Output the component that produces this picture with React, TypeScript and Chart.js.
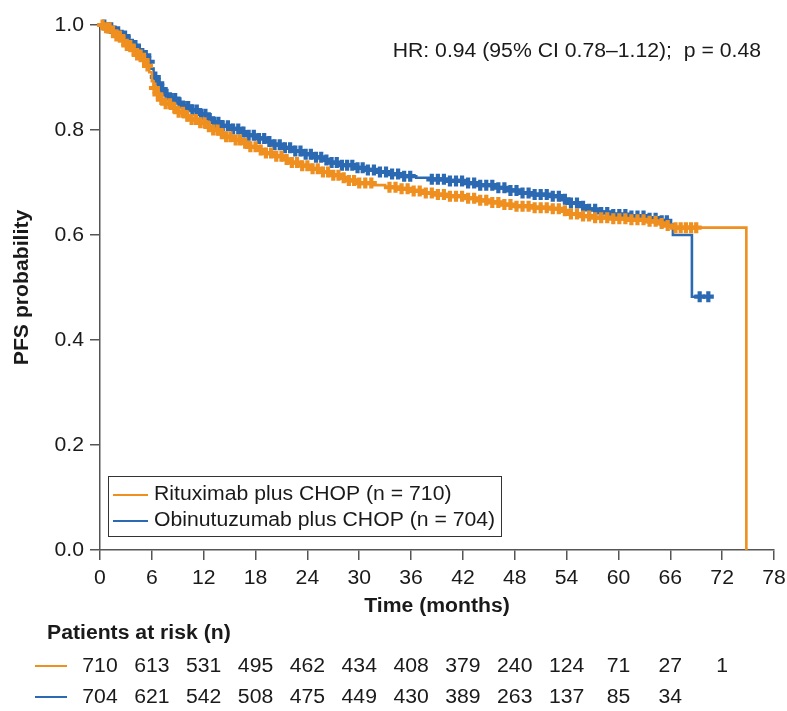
import React, { useEffect, useRef } from "react";
import { Chart, registerables } from "chart.js";

Chart.register(...registerables);

// ---- Data ----
const rituxTimes = [0, 0.6, 1.2, 1.8, 2.4, 3.0, 3.6, 4.2, 4.8, 5.3, 5.7, 6.0, 6.2, 6.5, 6.9, 7.5, 8.2, 9.0, 9.8, 10.6, 11.4, 12.2, 13.0, 13.8, 14.6, 15.5, 16.4, 17.3, 18.2, 19.2, 20.2, 21.2, 22.2, 23.3, 24.4, 25.5, 26.6, 27.7, 28.8, 30.0, 31.5, 33.0, 34.5, 36.0, 37.5, 39.0, 40.5, 42.0, 43.5, 45.0, 46.5, 48.0, 50.0, 52.0, 53.5, 54.5, 55.5, 57.0, 59.0, 61.0, 63.0, 64.5, 65.5, 66.5, 74.8];
const rituxSurv = [1.0, 0.995, 0.988, 0.979, 0.970, 0.961, 0.952, 0.943, 0.933, 0.922, 0.910, 0.893, 0.880, 0.868, 0.858, 0.850, 0.842, 0.834, 0.826, 0.820, 0.814, 0.806, 0.800, 0.793, 0.787, 0.781, 0.775, 0.768, 0.762, 0.756, 0.750, 0.744, 0.738, 0.732, 0.726, 0.720, 0.714, 0.709, 0.704, 0.699, 0.695, 0.691, 0.688, 0.684, 0.680, 0.677, 0.674, 0.670, 0.666, 0.662, 0.658, 0.655, 0.652, 0.650, 0.646, 0.640, 0.636, 0.633, 0.631, 0.629, 0.626, 0.622, 0.618, 0.614, 0.0];
const rituxCensor = [0.3, 0.7, 1.1, 1.5, 1.9, 2.3, 2.7, 3.1, 3.5, 3.9, 4.3, 4.7, 5.1, 5.5, 6.3, 6.7, 7.1, 7.6, 8.1, 8.6, 9.1, 9.6, 10.1, 10.6, 11.1, 11.6, 12.1, 12.6, 13.1, 13.6, 14.1, 14.6, 15.1, 15.7, 16.2, 16.8, 17.4, 18.0, 18.6, 19.2, 19.8, 20.4, 21.0, 21.6, 22.2, 22.8, 23.4, 24.0, 24.6, 25.2, 25.8, 26.4, 27.0, 27.6, 28.2, 28.8, 29.4, 30.0, 30.7, 31.4, 33.5, 34.2, 34.9, 35.6, 36.3, 37.0, 37.7, 38.4, 39.1, 39.8, 40.5, 41.2, 41.9, 42.6, 43.3, 44.0, 44.7, 45.4, 46.1, 46.8, 47.5, 48.2, 48.9, 49.6, 50.3, 51.0, 51.7, 52.4, 53.1, 53.8, 54.5, 55.2, 55.9, 56.6, 57.3, 58.0, 58.7, 59.4, 60.1, 60.8, 61.5, 62.2, 62.9, 63.6, 64.3, 65.0, 65.7, 66.6, 67.2, 67.8, 68.4, 69.0];

const obinTimes = [0, 0.9, 1.6, 2.3, 3.0, 3.7, 4.3, 4.9, 5.4, 5.8, 6.2, 6.5, 6.9, 7.4, 8.0, 8.8, 9.6, 10.5, 11.4, 12.3, 13.2, 14.2, 15.2, 16.2, 17.2, 18.2, 19.2, 20.2, 21.3, 22.4, 23.5, 24.6, 25.7, 26.8, 28.0, 29.3, 30.6, 32.0, 33.5, 35.0, 36.6, 38.2, 40.0, 42.0, 44.0, 45.5, 47.0, 48.5, 50.0, 52.0, 53.5, 54.5, 55.5, 56.5, 57.5, 59.0, 61.0, 63.0, 65.0, 66.0, 66.3, 68.5, 70.4];
const obinSurv = [1.0, 0.995, 0.987, 0.979, 0.970, 0.961, 0.952, 0.942, 0.930, 0.917, 0.901, 0.889, 0.878, 0.868, 0.860, 0.852, 0.845, 0.838, 0.830, 0.822, 0.815, 0.808, 0.802, 0.796, 0.790, 0.784, 0.778, 0.772, 0.766, 0.760, 0.754, 0.748, 0.743, 0.738, 0.733, 0.728, 0.724, 0.720, 0.716, 0.712, 0.709, 0.706, 0.703, 0.699, 0.695, 0.690, 0.685, 0.680, 0.677, 0.674, 0.668, 0.661, 0.655, 0.649, 0.643, 0.639, 0.636, 0.632, 0.627, 0.620, 0.600, 0.4825, 0.4825];
const obinCensor = [0.5, 0.9, 1.3, 1.7, 2.1, 2.5, 2.9, 3.3, 3.7, 4.1, 4.5, 4.9, 5.3, 5.7, 6.4, 6.8, 7.2, 7.7, 8.2, 8.7, 9.2, 9.7, 10.2, 10.7, 11.2, 11.7, 12.2, 12.7, 13.2, 13.7, 14.2, 14.8, 15.4, 16.0, 16.6, 17.2, 17.8, 18.4, 19.0, 19.6, 20.2, 20.8, 21.4, 22.0, 22.6, 23.2, 23.8, 24.4, 25.0, 25.6, 26.2, 26.8, 27.4, 28.0, 28.6, 29.2, 29.8, 30.4, 31.0, 31.7, 32.4, 33.1, 33.8, 34.5, 35.2, 35.9, 38.4, 39.1, 39.8, 40.5, 41.2, 41.9, 42.6, 43.3, 44.0, 44.7, 45.4, 46.1, 46.8, 47.5, 48.2, 48.9, 49.6, 50.3, 51.0, 51.7, 52.4, 53.1, 53.8, 54.5, 55.2, 55.9, 56.6, 57.3, 58.0, 58.7, 59.4, 60.1, 60.8, 61.5, 62.2, 62.9, 63.6, 64.3, 65.0, 65.6, 69.4, 70.4];

const xTicks = [0, 6, 12, 18, 24, 30, 36, 42, 48, 54, 60, 66, 72, 78];
const yTicks = [0, 0.2, 0.4, 0.6, 0.8, 1.0];
const yTickLabels = ["0.0", "0.2", "0.4", "0.6", "0.8", "1.0"];

const riskTimesR = [0, 6, 12, 18, 24, 30, 36, 42, 48, 54, 60, 66, 72];
const riskR = [710, 613, 531, 495, 462, 434, 408, 379, 240, 124, 71, 27, 1];
const riskTimesO = [0, 6, 12, 18, 24, 30, 36, 42, 48, 54, 60, 66];
const riskO = [704, 621, 542, 508, 475, 449, 430, 389, 263, 137, 85, 34];

const seriesNames = ["Rituximab plus CHOP (n = 710)", "Obinutuzumab plus CHOP (n = 704)"];
const hrText = "HR: 0.94 (95% CI 0.78\u20131.12);  p = 0.48";

const ORANGE = "#EF8F1F";
const BLUE = "#2B6AB3";
const AXIS = "#555555";
const TEXT = "#1a1a1a";

function survAt(times: number[], surv: number[], t: number) {
  let v = surv[0];
  for (let i = 0; i < times.length; i++) if (times[i] <= t) v = surv[i];
  return v;
}

const FONT = "'Liberation Sans', Arial, Helvetica, sans-serif";
const FS = 20;
const SX = 1.06;

function txt(ctx: CanvasRenderingContext2D, s: string, x: number, y: number, align: CanvasTextAlign, bold = false, rot = 0) {
  ctx.save();
  ctx.translate(x, y);
  if (rot) ctx.rotate(rot);
  ctx.scale(SX, 1);
  ctx.font = `${bold ? "bold " : ""}${FS}px ${FONT}`;
  ctx.fillStyle = TEXT;
  ctx.textAlign = align;
  ctx.textBaseline = "middle";
  ctx.fillText(s, 0, 0);
  ctx.restore();
}

export default function App() {
  const ref = useRef<HTMLCanvasElement | null>(null);
  useEffect(() => {
    if (!ref.current) return;
    const stepData = (t: number[], s: number[]) => t.map((x, i) => ({ x, y: s[i] }));
    const censData = (c: number[], t: number[], s: number[]) => c.map((x) => ({ x, y: survAt(t, s, x) }));

    const overlay = {
      id: "overlay",
      afterDraw(chart: any) {
        const ctx = chart.ctx as CanvasRenderingContext2D;
        const xs = chart.scales.x;
        const ys = chart.scales.y;
        const area = chart.chartArea;
        xTicks.forEach((t) => txt(ctx, String(t), xs.getPixelForValue(t), 578, "center"));
        yTicks.forEach((v, i) => txt(ctx, yTickLabels[i], 84, ys.getPixelForValue(v), "right"));
        txt(ctx, "Time (months)", (area.left + area.right) / 2, 606, "center", true);
        txt(ctx, "PFS probability", 22, (area.top + area.bottom) / 2, "center", true, -Math.PI / 2);
        txt(ctx, hrText, 761, 51, "right");
        ctx.save();
        ctx.strokeStyle = "#333";
        ctx.lineWidth = 1;
        ctx.strokeRect(108.5, 476.5, 393, 60);
        ctx.lineWidth = 1.8;
        ctx.strokeStyle = ORANGE;
        ctx.beginPath(); ctx.moveTo(113, 495); ctx.lineTo(148, 495); ctx.stroke();
        ctx.strokeStyle = BLUE;
        ctx.beginPath(); ctx.moveTo(113, 521); ctx.lineTo(148, 521); ctx.stroke();
        ctx.restore();
        txt(ctx, seriesNames[0], 154, 494, "left");
        txt(ctx, seriesNames[1], 154, 520, "left");
        txt(ctx, "Patients at risk (n)", 47, 633, "left", true);
        ctx.save();
        ctx.lineWidth = 2;
        ctx.strokeStyle = ORANGE;
        ctx.beginPath(); ctx.moveTo(35, 666); ctx.lineTo(67, 666); ctx.stroke();
        ctx.strokeStyle = BLUE;
        ctx.beginPath(); ctx.moveTo(35, 697); ctx.lineTo(67, 697); ctx.stroke();
        ctx.restore();
        riskTimesR.forEach((t, i) => txt(ctx, String(riskR[i]), xs.getPixelForValue(t), 666, "center"));
        riskTimesO.forEach((t, i) => txt(ctx, String(riskO[i]), xs.getPixelForValue(t), 697, "center"));
      },
    };

    const censorStyle = {
      showLine: false,
      pointStyle: "cross",
      pointRadius: 5.5,
      pointBorderWidth: 4.2,
      clip: false,
    };
    const lineStyle = {
      stepped: true,
      borderWidth: 2.6,
      pointRadius: 0,
      fill: false,
      clip: false,
    };

    const chart = new Chart(ref.current, {
      type: "line",
      data: {
        datasets: [
          { label: "Rituximab censored", data: censData(rituxCensor, rituxTimes, rituxSurv), borderColor: ORANGE, backgroundColor: ORANGE, ...censorStyle } as any,
          { label: seriesNames[0], data: stepData(rituxTimes, rituxSurv), borderColor: ORANGE, ...lineStyle } as any,
          { label: "Obinutuzumab censored", data: censData(obinCensor, obinTimes, obinSurv), borderColor: BLUE, backgroundColor: BLUE, ...censorStyle } as any,
          { label: seriesNames[1], data: stepData(obinTimes, obinSurv), borderColor: BLUE, ...lineStyle } as any,
        ],
      },
      options: {
        animation: false,
        responsive: false,
        layout: { padding: { left: 0, top: 25, right: 13, bottom: 0 } },
        plugins: { legend: { display: false }, tooltip: { enabled: false } },
        scales: {
          x: {
            type: "linear",
            min: 0,
            max: 78,
            afterBuildTicks: (s: any) => { s.ticks = xTicks.map((v) => ({ value: v })); },
            afterFit: (s: any) => { s.height = 161; },
            ticks: { color: "rgba(0,0,0,0)", font: { size: 8 }, autoSkip: false },
            grid: { drawOnChartArea: false, drawTicks: true, tickLength: 10, color: AXIS, lineWidth: 1.5 },
            border: { display: true, color: AXIS, width: 1.5 },
          },
          y: {
            type: "linear",
            min: 0,
            max: 1,
            afterBuildTicks: (s: any) => { s.ticks = yTicks.map((v) => ({ value: v })); },
            afterFit: (s: any) => { s.width = 100; },
            ticks: { color: "rgba(0,0,0,0)", font: { size: 8 } },
            grid: { drawOnChartArea: false, drawTicks: true, tickLength: 10, color: AXIS, lineWidth: 1.5 },
            border: { display: true, color: AXIS, width: 1.5 },
          },
        },
      } as any,
      plugins: [overlay],
    });
    return () => chart.destroy();
  }, []);

  return (
    <div style={{ position: "fixed", left: 0, top: 0, width: 787, height: 711, background: "#fff" }}>
      <canvas ref={ref} width={787} height={711} style={{ width: 787, height: 711 }} />
    </div>
  );
}
